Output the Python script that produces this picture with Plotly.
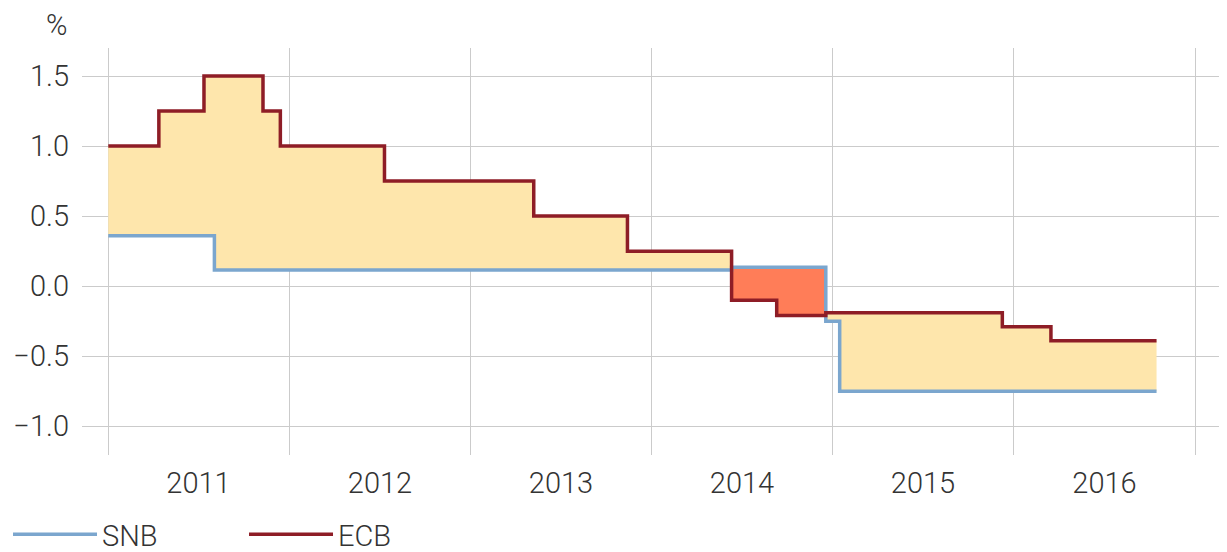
import plotly.graph_objects as go
import pandas as pd

# ECB rate (step series): change dates and levels, last date = end of series
ecb_dates = ["2011-01-01", "2011-04-13", "2011-07-13", "2011-11-09", "2011-12-14",
             "2012-07-11", "2013-05-08", "2013-11-13", "2014-06-11", "2014-09-10",
             "2014-12-18", "2015-12-09", "2016-03-16", "2016-10-15"]
ecb_values = [1.0, 1.25, 1.5, 1.25, 1.0, 0.75, 0.5, 0.25, -0.1, -0.21, -0.19, -0.29, -0.39, -0.39]

# SNB rate (step series)
snb_dates = ["2011-01-01", "2011-08-03", "2014-06-11", "2014-12-18", "2015-01-15", "2016-10-15"]
snb_values = [0.36, 0.115, 0.135, -0.25, -0.75, -0.75]

year_labels = ["2011", "2012", "2013", "2014", "2015", "2016"]
year_mid = ["2011-07-02", "2012-07-02", "2013-07-02", "2014-07-02", "2015-07-02", "2016-07-02"]
y_ticks = [-1.0, -0.5, 0.0, 0.5, 1.0, 1.5]

# common breakpoints for the shaded areas
def step_value(dates, vals, d):
    v = vals[0]
    for dd, vv in zip(dates, vals):
        if pd.Timestamp(dd) <= d:
            v = vv
    return v

all_dates = sorted(set(pd.Timestamp(d) for d in ecb_dates + snb_dates))
e = [step_value(ecb_dates, ecb_values, d) for d in all_dates]
s = [step_value(snb_dates, snb_values, d) for d in all_dates]
hi = [max(a, b) for a, b in zip(e, s)]

YELLOW = "#FEE6AC"
RED_AREA = "#FF7D58"
ECB_COL = "#8E1D26"
SNB_COL = "#7BA6CE"
GRID = "#CBCBCB"
TEXT = "#333333"
FONT = "Roboto"
FS = 29

fig = go.Figure()
# yellow: ECB above SNB
fig.add_trace(go.Scatter(x=all_dates, y=s, mode="lines", line=dict(width=0, shape="hv"),
                         showlegend=False, hoverinfo="skip"))
fig.add_trace(go.Scatter(x=all_dates, y=hi, mode="lines", line=dict(width=0, shape="hv"),
                         fill="tonexty", fillcolor=YELLOW, showlegend=False, hoverinfo="skip"))
# red: SNB above ECB
fig.add_trace(go.Scatter(x=all_dates, y=e, mode="lines", line=dict(width=0, shape="hv"),
                         showlegend=False, hoverinfo="skip"))
fig.add_trace(go.Scatter(x=all_dates, y=hi, mode="lines", line=dict(width=0, shape="hv"),
                         fill="tonexty", fillcolor=RED_AREA, showlegend=False, hoverinfo="skip"))

fig.add_trace(go.Scatter(x=snb_dates, y=snb_values, mode="lines", name="SNB",
                         line=dict(color=SNB_COL, width=3.5, shape="hv")))
fig.add_trace(go.Scatter(x=ecb_dates, y=ecb_values, mode="lines", name="ECB",
                         line=dict(color=ECB_COL, width=3.5, shape="hv")))

# page body has an 8px margin, so the figure is 8px smaller and all offsets shifted
fig.update_layout(
    width=1219, height=544,
    margin=dict(l=74, r=5, t=40, b=97, autoexpand=False),
    paper_bgcolor="white", plot_bgcolor="white",
    font=dict(family=FONT, size=FS, color=TEXT, weight=300),
    showlegend=True,
    legend=dict(orientation="h", x=-0.0649, xanchor="left", y=-0.195, yanchor="middle",
                traceorder="normal", itemwidth=84,
                font=dict(size=FS, color=TEXT, family=FONT, weight=300),
                entrywidth=137, entrywidthmode="pixels", bgcolor="rgba(0,0,0,0)"),
    xaxis=dict(
        type="date", automargin=False,
        range=["2010-11-09", "2017-02-24"],
        tickmode="array", tickvals=year_mid, ticktext=year_labels,
        showgrid=False, ticks="", zeroline=False, showline=False,
        ticklabelstandoff=8,
        minor=dict(dtick="M12", tick0="2011-01-01", showgrid=True,
                   gridcolor=GRID, gridwidth=1.3, ticks=""),
    ),
    yaxis=dict(
        automargin=False,
        range=[-1.205, 1.7],
        tickmode="array", tickvals=y_ticks,
        ticktext=["\u22121.0", "\u22120.5", "0.0", "0.5", "1.0", "1.5"],
        showgrid=True, gridcolor=GRID, gridwidth=1.3,
        zeroline=False, showline=False, ticks="",
        ticklabelstandoff=12,
    ),
    annotations=[dict(text="%", xref="paper", yref="paper", x=-0.022, y=1.0565,
                      xanchor="center", yanchor="middle", showarrow=False,
                      font=dict(size=FS, color=TEXT, family=FONT, weight=300))],
)

fig.write_html("out.html")
